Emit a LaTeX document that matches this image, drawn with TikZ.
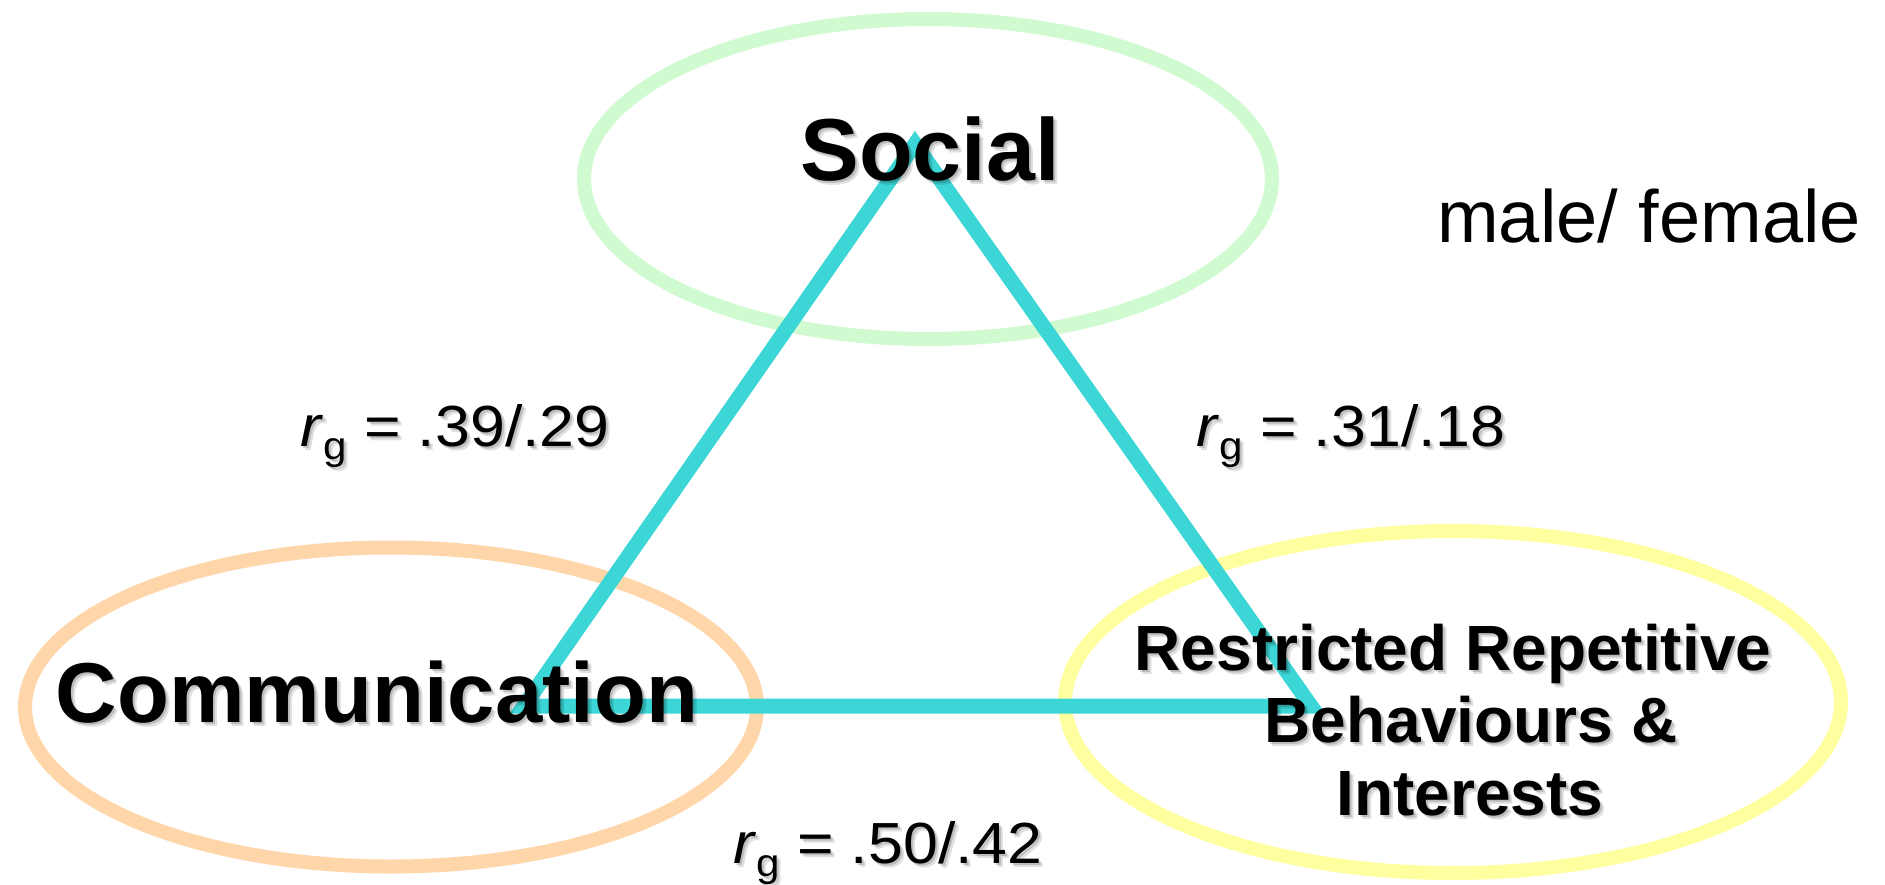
\documentclass[tikz,border=0pt]{standalone}
\usepackage{fontspec}
\setmainfont{Liberation Sans}
\usetikzlibrary{calc,shapes.geometric}
\definecolor{socialgreen}{RGB}{208,250,208}
\definecolor{commorange}{RGB}{255,214,170}
\definecolor{rrbyellow}{RGB}{255,255,160}
\definecolor{tricyan}{RGB}{60,214,214}
\newcommand\shnode[4]{%
  \node[#2, text=black, text opacity=0.16] (#1s1) at ($(#3)+(2,2)$) {#4};
  \node[#2, text=black, text opacity=0.12] (#1s2) at ($(#3)+(4,4)$) {#4};
  \node[#2] (#1) at (#3) {#4};}
\newcommand\rglab[1]{\scalebox{1.08}[1]{\textit{r}\raisebox{-13pt}{\fontsize{39}{42}\selectfont g}\ =\ #1}}
\tikzset{
  ringstyle/.style={draw, ellipse, line width=14pt, inner sep=0pt, fill=none},
  tri/.style={draw=tricyan, line width=15pt, line join=miter},
  bigbold/.style={inner sep=0pt, anchor=base, font=\bfseries\fontsize{#1}{#1}\selectfont},
  rglabel/.style={inner sep=0pt, anchor=base west, font=\fontsize{58}{64}\selectfont},
  plain/.style={inner sep=0pt, anchor=base west, font=\fontsize{74}{80}\selectfont}
}
\begin{document}
\begin{tikzpicture}[x=1pt,y=-1pt]
\useasboundingbox (0,0) rectangle (1885,884);
\fill[white] (0,0) rectangle (1885,884);
% ellipses
\node[ringstyle, draw=socialgreen, minimum width=688pt, minimum height=320pt] (socialring) at (928,179) {};
\node[ringstyle, draw=commorange, minimum width=732pt, minimum height=319pt] (commring) at (391,707) {};
\node[ringstyle, draw=rrbyellow, minimum width=776pt, minimum height=342pt] (rrbring) at (1453,702) {};
% triangle
\coordinate (apex) at (915,144);
\coordinate (leftv) at (524,706);
\coordinate (rightv) at (1311,706);
\draw[tri] (apex) -- (rightv) -- (leftv) -- cycle;
% texts
\shnode{social}{bigbold=88}{930,180}{Social}
\shnode{comm}{bigbold=85}{377,722}{Communication}
\shnode{rrba}{bigbold=64}{1453,670}{Restricted Repetitive}
\shnode{rrbb}{bigbold=64}{1471,742}{Behaviours \&}
\shnode{rrbc}{bigbold=64}{1470,815}{Interests}
\node[plain] (mf) at (1437,242) {male/ female};
\shnode{rgone}{rglabel}{300,446}{\rglab{.39/.29}}
\shnode{rgtwo}{rglabel}{1196,446}{\rglab{.31/.18}}
\shnode{rgthree}{rglabel}{733,863}{\rglab{.50/.42}}
\end{tikzpicture}
\end{document}
